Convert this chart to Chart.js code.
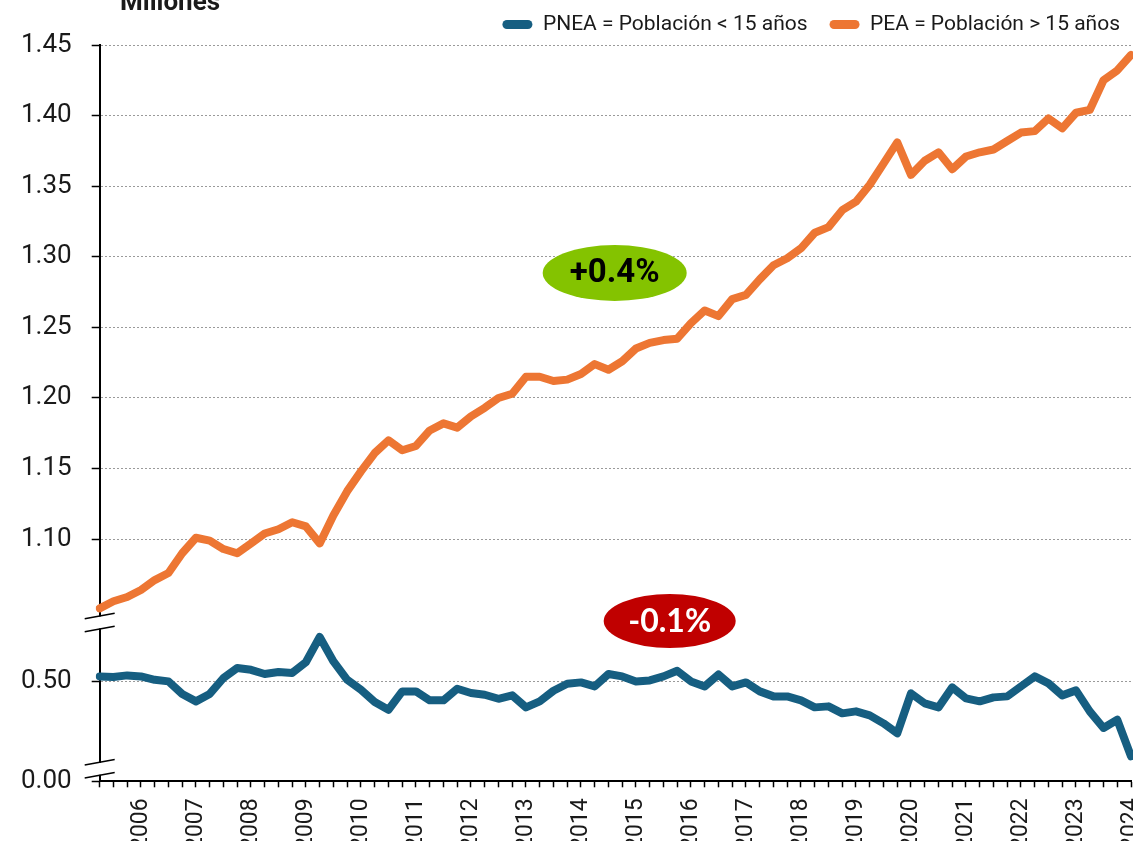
<!DOCTYPE html>
<html>
<head>
<meta charset="utf-8">
<script src="https://cdn.jsdelivr.net/npm/chart.js@4.4.1/dist/chart.umd.min.js"></script>
<style>
  html, body { margin: 0; padding: 0; background: #fff; overflow: hidden; }
  #wrap { position: relative; width: 1133px; height: 861px; }
</style>
</head>
<body>
<div id="wrap"><canvas id="chart"></canvas></div>
<script>
// Years on the axis, one point per quarter
const years = [2006, 2007, 2008, 2009, 2010, 2011, 2012, 2013, 2014, 2015,
  2016, 2017, 2018, 2019, 2020, 2021, 2022, 2023, 2024];
const quarterNames = ['T1', 'T2', 'T3', 'T4'];
const quarters = [];
years.forEach(y => quarterNames.forEach(q => quarters.push(y + ' ' + q)));

// Millones
const pnea = [
  0.525, 0.522, 0.530, 0.525, 0.508, 0.500, 0.437, 0.400, 0.437, 0.517,
  0.567, 0.558, 0.537, 0.547, 0.542, 0.597, 0.722, 0.600, 0.508, 0.458,
  0.397, 0.358, 0.450, 0.450, 0.405, 0.405, 0.463, 0.442, 0.433, 0.413,
  0.430, 0.370, 0.400, 0.453, 0.488, 0.495, 0.475, 0.537, 0.525, 0.500,
  0.505, 0.525, 0.553, 0.500, 0.475, 0.535, 0.475, 0.495, 0.450, 0.425,
  0.425, 0.405, 0.370, 0.375, 0.340, 0.350, 0.330, 0.290, 0.240, 0.440,
  0.390, 0.370, 0.470, 0.415, 0.400, 0.420, 0.425, 0.475, 0.525, 0.490,
  0.430, 0.455, 0.350, 0.267, 0.308, 0.125
];
const pea = [
  1.051, 1.056, 1.059, 1.064, 1.071, 1.076, 1.090, 1.101, 1.099, 1.093,
  1.090, 1.097, 1.104, 1.107, 1.112, 1.109, 1.097, 1.117, 1.134, 1.148,
  1.161, 1.170, 1.163, 1.166, 1.177, 1.182, 1.179, 1.187, 1.193, 1.200,
  1.203, 1.215, 1.215, 1.212, 1.213, 1.217, 1.224, 1.220, 1.226, 1.235,
  1.239, 1.241, 1.242, 1.253, 1.262, 1.258, 1.270, 1.273, 1.284, 1.294,
  1.299, 1.306, 1.317, 1.321, 1.333, 1.339, 1.351, 1.366, 1.381, 1.358,
  1.368, 1.374, 1.362, 1.371, 1.374, 1.376, 1.382, 1.388, 1.389, 1.398,
  1.391, 1.402, 1.404, 1.425, 1.432, 1.443
];

const upperTicks = [1.10, 1.15, 1.20, 1.25, 1.30, 1.35, 1.40, 1.45];
const lowerTicks = [0.00, 0.50];

const blue = '#165e81';
const orange = '#ed7633';
const font = 'Roboto, "Liberation Sans", sans-serif';
const textColor = '#1a1a1a';

// extra drawing: axis breaks, title, the two growth badges
const extras = {
  id: 'extras',
  afterLayout(chart) {
    // legend sits a bit closer to the right edge than Chart.js puts it
    if (chart.legend) chart.legend.right += 11;
  },
  afterDraw(chart) {
    const { ctx, chartArea, scales } = chart;
    const left = chartArea.left;

    function axisBreak(c) {
      ctx.save();
      ctx.fillStyle = '#fff';
      ctx.fillRect(left - 3, c - 6, 6, 12);
      ctx.strokeStyle = '#000';
      ctx.lineWidth = 1.5;
      [-6.5, 6.5].forEach(off => {
        ctx.beginPath();
        ctx.moveTo(left - 15, c + off + 2.8);
        ctx.lineTo(left + 15, c + off - 2.8);
        ctx.stroke();
      });
      ctx.restore();
    }
    axisBreak(scales.yHigh.bottom);
    axisBreak(scales.yLow.getPixelForValue(0) - 12.5);

    function badge(cx, cy, rx, ry, fill, text, color, f) {
      ctx.save();
      ctx.fillStyle = fill;
      ctx.beginPath();
      ctx.ellipse(cx, cy, rx, ry, 0, 0, Math.PI * 2);
      ctx.fill();
      ctx.fillStyle = color;
      ctx.font = f;
      ctx.textAlign = 'center';
      ctx.textBaseline = 'middle';
      ctx.fillText(text, cx, cy + 1);
      ctx.restore();
    }
    badge(left + 515, chartArea.top + 228, 72, 28, '#84c300', '+0.4%', '#000', 'bold 33px ' + font);
    badge(left + 570, chartArea.top + 576, 66, 27, '#c00000', '-0.1%', '#fff', 'bold 32px Lato, ' + font);

    ctx.save();
    ctx.fillStyle = textColor;
    ctx.font = 'bold 26px ' + font;
    ctx.textAlign = 'left';
    ctx.textBaseline = 'alphabetic';
    ctx.fillText('Millones', 120, 10);
    ctx.restore();
  }
};

const yGrid = {
  color: '#9a9a9a',
  lineWidth: 1,
  tickLength: 8,
  tickColor: '#000',
  tickWidth: 1.5,
  tickBorderDash: []
};

new Chart(document.getElementById('chart'), {
  type: 'line',
  data: {
    labels: quarters,
    datasets: [
      {
        label: 'PNEA = Población < 15 años',
        data: pnea,
        yAxisID: 'yLow',
        borderColor: blue,
        backgroundColor: blue,
        borderWidth: 8,
        pointRadius: 0,
        tension: 0,
        borderJoinStyle: 'round',
        borderCapStyle: 'round'
      },
      {
        label: 'PEA = Población > 15 años',
        data: pea,
        yAxisID: 'yHigh',
        borderColor: orange,
        backgroundColor: orange,
        borderWidth: 8,
        pointRadius: 0,
        tension: 0,
        borderJoinStyle: 'round',
        borderCapStyle: 'round'
      }
    ]
  },
  options: {
    responsive: true,
    maintainAspectRatio: false,
    animation: false,
    events: [],
    layout: { padding: { top: -8, left: 1, right: 2, bottom: 0 } },
    plugins: {
      tooltip: { enabled: false },
      legend: {
        position: 'top',
        align: 'end',
        labels: {
          font: { family: font, size: 21 },
          color: textColor,
          boxWidth: 30,
          boxHeight: 9,
          useBorderRadius: true,
          borderRadius: 4.5,
          padding: 22,
          generateLabels(chart) {
            return Chart.defaults.plugins.legend.labels.generateLabels(chart).map(item => {
              item.lineWidth = 0;
              item.strokeStyle = 'transparent';
              return item;
            });
          }
        }
      }
    },
    scales: {
      x: {
        type: 'category',
        offset: false,
        grid: {
          drawOnChartArea: false,
          drawTicks: true,
          tickLength: 6,
          tickColor: '#000',
          tickWidth: 1.5
        },
        border: { display: true, color: '#000', width: 2 },
        ticks: {
          autoSkip: false,
          minRotation: 90,
          maxRotation: 90,
          padding: 11,
          color: textColor,
          font: { family: font, size: 23 },
          callback: (v, i) => (i % 4 === 3 ? String(years[(i - 3) / 4]) : '')
        },
        afterFit(scale) {
          scale.paddingLeft = 0;
          scale.paddingRight = 0;
        }
      },
      yLow: {
        type: 'linear',
        position: 'left',
        stack: 'v',
        stackWeight: 159,
        min: 0,
        max: 0.795,
        afterBuildTicks(scale) {
          scale.ticks = lowerTicks.map(v => ({ value: v }));
        },
        grid: Object.assign({}, yGrid, {
          color: c => (c.tick && c.tick.value === 0 ? 'rgba(0,0,0,0)' : '#9a9a9a')
        }),
        border: { display: true, color: '#000', width: 2, dash: [2, 2] },
        ticks: {
          padding: 20,
          color: textColor,
          font: { family: font, size: 26 },
          callback: v => v.toFixed(2)
        }
      },
      yHigh: {
        type: 'linear',
        position: 'left',
        stack: 'v',
        stackWeight: 578,
        min: 1.041,
        max: 1.45,
        afterBuildTicks(scale) {
          scale.ticks = upperTicks.map(v => ({ value: v }));
        },
        grid: yGrid,
        border: { display: true, color: '#000', width: 2, dash: [2, 2] },
        ticks: {
          padding: 20,
          color: textColor,
          font: { family: font, size: 26 },
          callback: v => v.toFixed(2)
        }
      }
    }
  },
  plugins: [extras]
});
</script>
</body>
</html>
